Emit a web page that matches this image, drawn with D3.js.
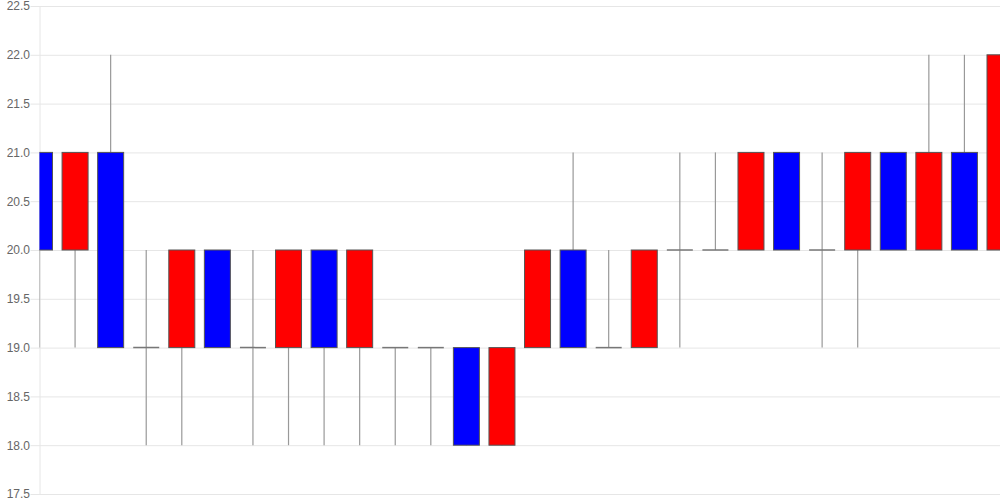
<!DOCTYPE html>
<html>
<head>
<meta charset="utf-8">
<script src="https://cdn.jsdelivr.net/npm/d3@7/dist/d3.min.js"></script>
<style>
  html, body { margin: 0; padding: 0; background: #fff; }
  svg { display: block; }
</style>
</head>
<body>
<svg id="chart" width="1000" height="500"></svg>
<script>
// ---- data ----
const categories = ["1","2","3","4","5","6","7","8","9","10","11","12","13","14",
                    "15","16","17","18","19","20","21","22","23","24","25","26","27","28"];
const opens  = [21, 20, 21, 19, 19, 20, 19, 19, 20, 19, 19, 19, 19, 18, 19, 20, 19, 19, 20, 20, 20, 21, 20, 20, 21, 20, 21, 20];
const highs  = [21, 21, 22, 20, 20, 20, 20, 20, 20, 20, 19, 19, 19, 19, 20, 21, 20, 20, 21, 21, 21, 21, 21, 21, 21, 22, 22, 22];
const lows   = [19, 19, 19, 18, 18, 19, 18, 18, 18, 18, 18, 18, 18, 18, 19, 19, 19, 19, 19, 20, 20, 20, 19, 19, 20, 20, 20, 20];
const closes = [20, 21, 19, 19, 20, 19, 19, 20, 19, 20, 19, 19, 18, 19, 20, 19, 19, 20, 20, 20, 21, 20, 20, 21, 20, 21, 20, 22];
const yTicks = [17.5, 18.0, 18.5, 19.0, 19.5, 20.0, 20.5, 21.0, 21.5, 22.0, 22.5];

// ---- layout ----
const W = 1000, H = 500;
const mLeft = 39.5, mRight = 1000, mTop = 6, mBottom = 494;
const svg = d3.select("#chart");

const x = d3.scalePoint().domain(categories).range([mLeft, mRight]);
const y = d3.scaleLinear().domain([17.5, 22.5]).range([mBottom, mTop]);
const bodyW = 26;

// grid lines (with tick stubs extending left)
const gGrid = svg.append("g")
  .attr("transform", `translate(${mRight},0)`)
  .call(d3.axisLeft(y).tickValues(yTicks).tickSize(mRight - mLeft + 9).tickFormat(""));
gGrid.select(".domain").remove();
gGrid.selectAll(".tick line").attr("stroke", "#e6e6e6").attr("stroke-width", 1);

// axis line + labels
svg.append("g")
  .attr("transform", `translate(${mLeft + 0.5},0)`)
  .call(d3.axisLeft(y).tickValues(yTicks).tickFormat(d3.format(".1f")).tickSize(0).tickPadding(10))
  .call(g => g.select(".domain").attr("stroke", "#e6e6e6").attr("d", `M0,${mTop}V${mBottom}`))
  .call(g => g.selectAll(".tick text")
      .attr("fill", "#666")
      .attr("font-family", "Liberation Sans, Arial, sans-serif")
      .attr("font-size", 12));

// clip
svg.append("clipPath").attr("id", "plotclip")
  .append("rect").attr("x", mLeft).attr("y", 0).attr("width", mRight - mLeft).attr("height", H);

const data = categories.map((c, i) => ({
  c, o: opens[i], h: highs[i], l: lows[i], cl: closes[i]
}));

const g = svg.append("g").attr("clip-path", "url(#plotclip)");

// wicks
g.selectAll("line.wick").data(data).join("line")
  .attr("class", "wick")
  .attr("x1", d => x(d.c)).attr("x2", d => x(d.c))
  .attr("y1", d => y(d.h)).attr("y2", d => y(d.l))
  .attr("stroke", "#999").attr("stroke-width", 1.2);

// bodies
g.selectAll("rect.body").data(data.filter(d => d.o !== d.cl)).join("rect")
  .attr("class", "body")
  .attr("x", d => x(d.c) - bodyW / 2)
  .attr("width", bodyW)
  .attr("y", d => y(Math.max(d.o, d.cl)))
  .attr("height", d => y(Math.min(d.o, d.cl)) - y(Math.max(d.o, d.cl)))
  .attr("fill", d => d.cl > d.o ? "#ff0000" : "#0000ff")
  .attr("stroke", "#555")
  .attr("stroke-width", 1);

// doji
g.selectAll("line.doji").data(data.filter(d => d.o === d.cl)).join("line")
  .attr("class", "doji")
  .attr("x1", d => x(d.c) - bodyW / 2).attr("x2", d => x(d.c) + bodyW / 2)
  .attr("y1", d => y(d.o)).attr("y2", d => y(d.o))
  .attr("stroke", "#777").attr("stroke-width", 1.5);
</script>
</body>
</html>
